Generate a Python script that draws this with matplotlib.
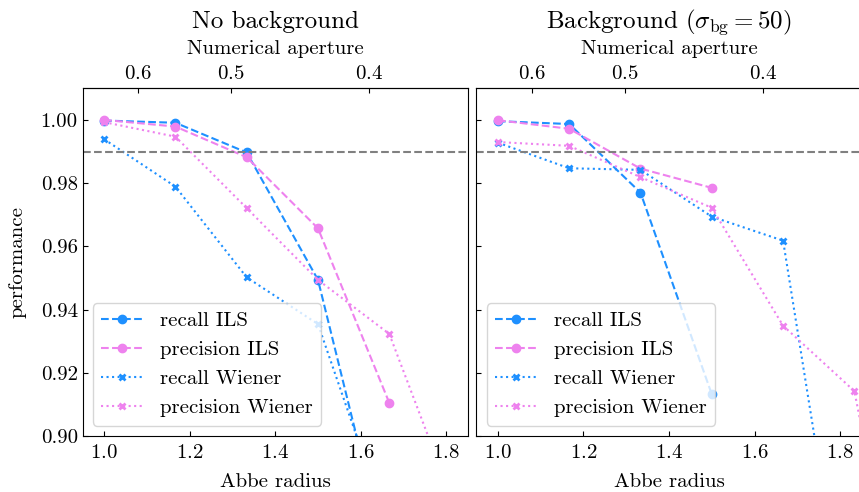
import numpy as np
import matplotlib
matplotlib.use("Agg")
import matplotlib.pyplot as plt

plt.rcParams.update({
    "font.family": "serif",
    "font.serif": ["cmr10"],
    "mathtext.fontset": "cm",
    "axes.unicode_minus": False,
    "axes.formatter.use_mathtext": True,
    "xtick.direction": "in",
    "ytick.direction": "in",
    "font.size": 15,
})

# Abbe radius sampled in steps of 1/6
abbe = [1.0, 7 / 6, 4 / 3, 1.5, 5 / 3, 11 / 6, 2.0]

# No background
recall_ils_nobg = [0.9998, 0.9991, 0.9897, 0.9494, 0.858]
precision_ils_nobg = [1.0000, 0.9979, 0.9882, 0.9657, 0.9105]
recall_wiener_nobg = [0.9939, 0.9789, 0.9502, 0.9354, 0.870]
precision_wiener_nobg = [0.9993, 0.9947, 0.9721, 0.9494, 0.9323, 0.873]

# Background sigma_bg = 50
recall_ils_bg = [0.9996, 0.9987, 0.9770, 0.9132]
precision_ils_bg = [0.9999, 0.9972, 0.9846, 0.9785]
recall_wiener_bg = [0.9928, 0.9847, 0.9842, 0.9694, 0.9618, 0.821]
precision_wiener_bg = [0.9930, 0.9918, 0.9819, 0.9722, 0.9349, 0.9142, 0.80]

threshold = 0.99
na_ticks = [0.6, 0.5, 0.4]
na_scale = 0.648

BLUE = "#1E90FF"
PINK = "#EE82EE"

fig = plt.figure(figsize=(8.59, 4.92), dpi=100)
W, H = 859, 492
ax_w = 385 / W
ax_b = 1 - 436 / H
ax_h = (436 - 88.3) / H
ax1 = fig.add_axes([82.7 / W, ax_b, ax_w, ax_h])
ax2 = fig.add_axes([476.5 / W, ax_b, ax_w, ax_h], sharey=ax1)


def to_na(r):
    r = np.asarray(r, dtype=float)
    with np.errstate(divide="ignore"):
        return na_scale / r


panels = [
    (ax1, "No background",
     recall_ils_nobg, precision_ils_nobg, recall_wiener_nobg, precision_wiener_nobg),
    (ax2, r"Background ($\sigma_{\rm bg} = 50$)",
     recall_ils_bg, precision_ils_bg, recall_wiener_bg, precision_wiener_bg),
]

for ax, title, r_ils, p_ils, r_w, p_w in panels:
    ax.plot(abbe[:len(r_ils)], r_ils, "--o", color=BLUE, ms=6, lw=1.5, label="recall ILS")
    ax.plot(abbe[:len(p_ils)], p_ils, "--o", color=PINK, ms=6, lw=1.5, label="precision ILS")
    ax.plot(abbe[:len(r_w)], r_w, ":x", color=BLUE, ms=5, mew=2, lw=1.5, label="recall Wiener")
    ax.plot(abbe[:len(p_w)], p_w, ":x", color=PINK, ms=5, mew=2, lw=1.5, label="precision Wiener")
    ax.axhline(threshold, color="gray", ls="--", lw=1.5)
    ax.set_xlim(0.95, 1.85)
    ax.set_ylim(0.9, 1.01)
    ax.set_xticks([1.0, 1.2, 1.4, 1.6, 1.8])
    ax.tick_params(axis="x", pad=5.5)
    ax.set_xlabel("Abbe radius", labelpad=8)
    ax.legend(loc="lower left")
    sec = ax.secondary_xaxis("top", functions=(to_na, to_na))
    sec.set_xticks(na_ticks)
    sec.tick_params(direction="in")
    sec.set_xlabel("Numerical aperture", labelpad=8)
    ax.set_title(title, fontsize=18, pad=9)

ax1.set_yticks([0.90, 0.92, 0.94, 0.96, 0.98, 1.00])
ax1.yaxis.set_major_formatter(matplotlib.ticker.FormatStrFormatter("%.2f"))
ax1.set_ylabel("performance", labelpad=10)
ax2.tick_params(labelleft=False)

fig.savefig("out.png", dpi=100)
